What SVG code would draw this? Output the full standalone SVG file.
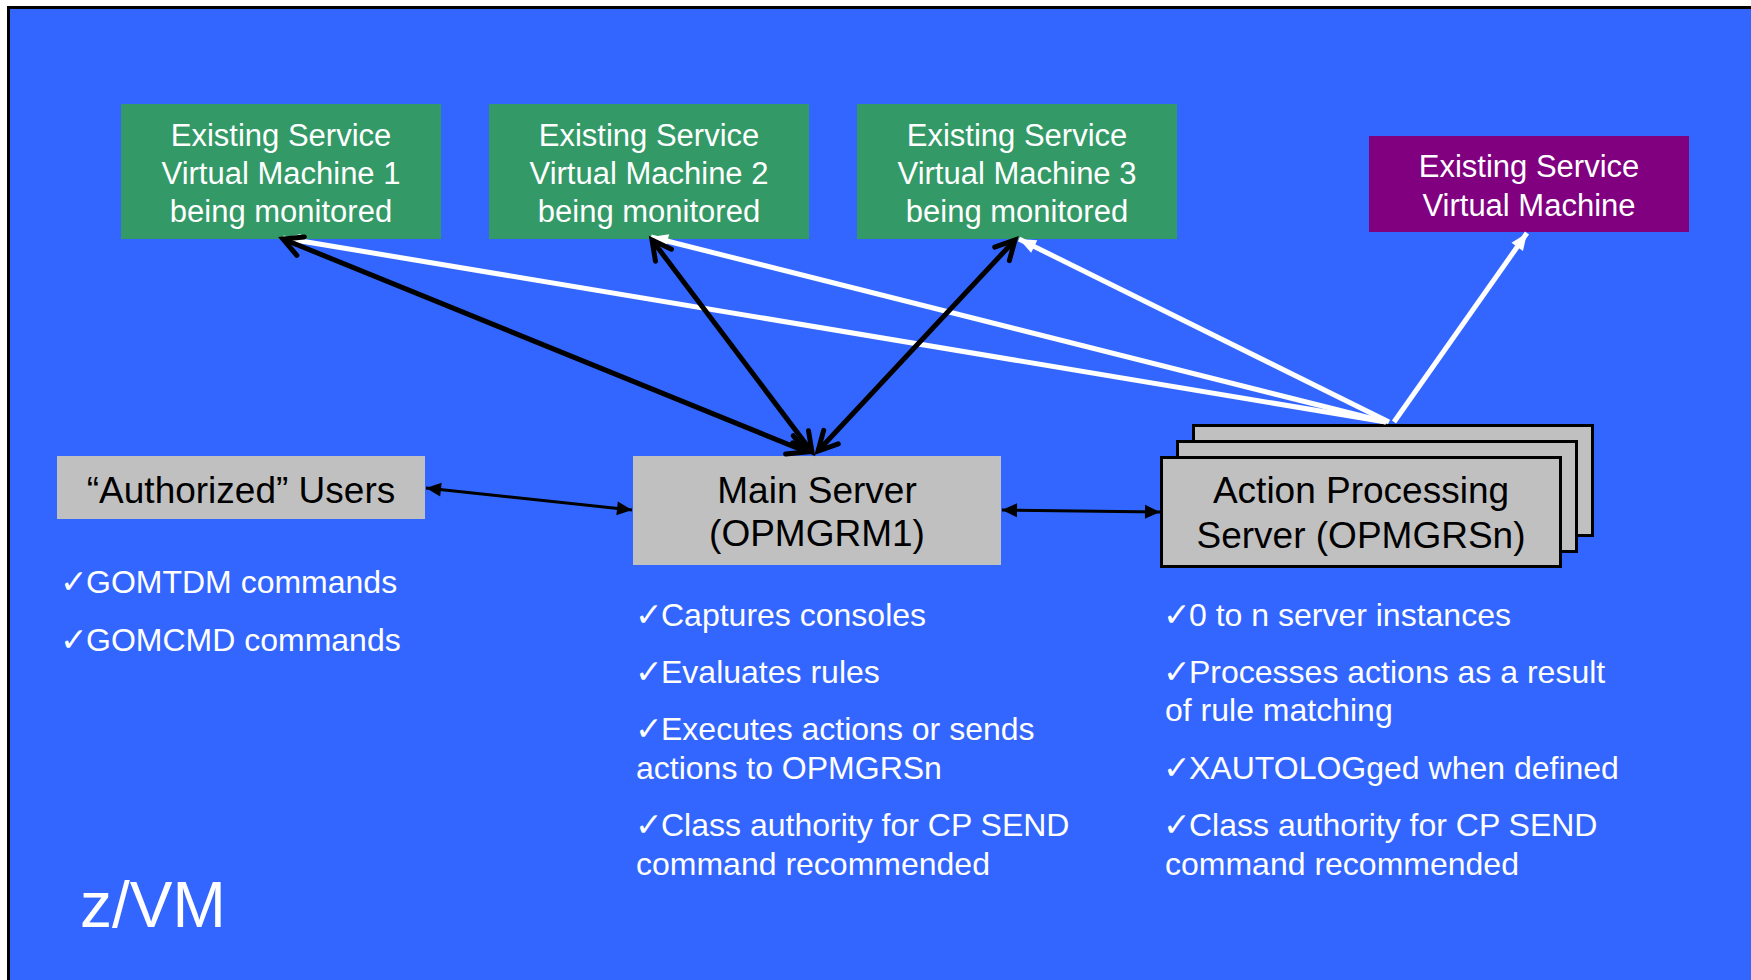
<svg xmlns="http://www.w3.org/2000/svg" width="1751" height="980" viewBox="0 0 1751 980">
  <style>
    .t { font-family: "Liberation Sans", Arial, sans-serif; }
    .w { fill: #FFFFFF; }
    .k { fill: #000000; }
    .ck { font-family: "DejaVu Sans", sans-serif; font-size: 33px; fill: #FFFFFF; }
    .bul { font-family: "Liberation Sans", Arial, sans-serif; font-size: 32px; fill: #FFFFFF; }
    .vm { font-size: 31px; text-anchor: middle; }
    .srv { font-size: 37px; text-anchor: middle; }
    .green { fill: #339966; }
    .gray { fill: #C0C0C0; }
    .blk { stroke: #000000; stroke-width: 5; fill: none; }
    .wht { stroke: #FFFFFF; stroke-width: 5; fill: none; }
    .thin { stroke: #000000; stroke-width: 3; fill: none; }
  </style>
  <defs>
    <marker id="chev" markerUnits="userSpaceOnUse" markerWidth="40" markerHeight="40" viewBox="-30 -20 40 40" refX="0" refY="0" orient="auto-start-reverse">
      <path d="M -19 -10 L 0 0 L -19 10" fill="none" stroke="#000000" stroke-width="5" stroke-linecap="round" stroke-linejoin="miter"/>
    </marker>
    <marker id="wtri" markerUnits="userSpaceOnUse" markerWidth="30" markerHeight="30" viewBox="-20 -15 30 30" refX="0" refY="0" orient="auto">
      <path d="M 0 0 L -17 -7 L -17 7 Z" fill="#FFFFFF"/>
    </marker>
    <marker id="btri" markerUnits="userSpaceOnUse" markerWidth="30" markerHeight="30" viewBox="-20 -15 30 30" refX="0" refY="0" orient="auto-start-reverse">
      <path d="M 0 0 L -15 -7 L -15 7 Z" fill="#000000"/>
    </marker>
  </defs>

  <rect x="0" y="0" width="1751" height="980" fill="#FFFFFF"/>
  <rect x="8.5" y="7.5" width="1760" height="990" fill="#3366FF" stroke="#000000" stroke-width="3"/>

  <g id="vm1">
    <rect class="green" x="121" y="104" width="320" height="135"/>
    <text class="t w vm" x="281" y="146">Existing Service</text>
    <text class="t w vm" x="281" y="184">Virtual Machine 1</text>
    <text class="t w vm" x="281" y="222">being monitored</text>
  </g>
  <g id="vm2">
    <rect class="green" x="489" y="104" width="320" height="135"/>
    <text class="t w vm" x="649" y="146">Existing Service</text>
    <text class="t w vm" x="649" y="184">Virtual Machine 2</text>
    <text class="t w vm" x="649" y="222">being monitored</text>
  </g>
  <g id="vm3">
    <rect class="green" x="857" y="104" width="320" height="135"/>
    <text class="t w vm" x="1017" y="146">Existing Service</text>
    <text class="t w vm" x="1017" y="184">Virtual Machine 3</text>
    <text class="t w vm" x="1017" y="222">being monitored</text>
  </g>
  <g id="vm-existing">
    <rect x="1369" y="136" width="320" height="96" fill="#800080"/>
    <text class="t w vm" x="1529" y="177">Existing Service</text>
    <text class="t w vm" x="1529" y="216">Virtual Machine</text>
  </g>

  <g id="users">
    <rect class="gray" x="57" y="456" width="368" height="63"/>
    <text class="t k srv" x="241" y="503">“Authorized” Users</text>
  </g>
  <g id="main-server">
    <rect class="gray" x="633" y="456" width="368" height="109"/>
    <text class="t k srv" x="817" y="503">Main Server</text>
    <text class="t k srv" x="817" y="546">(OPMGRM1)</text>
  </g>
  <g id="action-server">
    <rect class="gray" x="1193.5" y="425.5" width="399" height="110" stroke="#000000" stroke-width="3"/>
    <rect class="gray" x="1177.5" y="441.5" width="399" height="110" stroke="#000000" stroke-width="3"/>
    <rect class="gray" x="1161.5" y="457.5" width="399" height="109" stroke="#000000" stroke-width="3"/>
    <text class="t k srv" x="1361" y="503">Action Processing</text>
    <text class="t k srv" x="1361" y="548">Server (OPMGRSn)</text>
  </g>

  <g id="connectors">
    <line class="wht" x1="1386" y1="422" x2="283" y2="238" marker-end="url(#wtri)"/>
    <line class="wht" x1="1386" y1="422" x2="651" y2="237" marker-end="url(#wtri)"/>
    <line class="wht" x1="1389" y1="422" x2="1019" y2="239" marker-end="url(#wtri)"/>
    <line class="wht" x1="1394" y1="422" x2="1527" y2="233" stroke-width="4" marker-end="url(#wtri)"/>
    <line class="blk" x1="807" y1="452" x2="283" y2="239" marker-start="url(#chev)" marker-end="url(#chev)"/>
    <line class="blk" x1="812" y1="452" x2="652" y2="240" marker-start="url(#chev)" marker-end="url(#chev)"/>
    <line class="blk" x1="818" y1="451" x2="1015" y2="240" marker-start="url(#chev)" marker-end="url(#chev)"/>
    <line class="thin" x1="426" y1="488" x2="632" y2="510" marker-start="url(#btri)" marker-end="url(#btri)"/>
    <line class="thin" x1="1002" y1="510" x2="1160" y2="512" marker-start="url(#btri)" marker-end="url(#btri)"/>
  </g>

  <g id="user-notes">
    <text class="bul"><tspan class="ck" x="60" y="593">✓</tspan><tspan x="86" y="593">GOMTDM commands</tspan></text>
    <text class="bul"><tspan class="ck" x="60" y="651">✓</tspan><tspan x="86" y="651">GOMCMD commands</tspan></text>
  </g>
  <g id="main-notes">
    <text class="bul"><tspan class="ck" x="635" y="626">✓</tspan><tspan x="661" y="626">Captures consoles</tspan></text>
    <text class="bul"><tspan class="ck" x="635" y="683">✓</tspan><tspan x="661" y="683">Evaluates rules</tspan></text>
    <text class="bul"><tspan class="ck" x="635" y="740">✓</tspan><tspan x="661" y="740">Executes actions or sends</tspan><tspan x="636" y="779">actions to OPMGRSn</tspan></text>
    <text class="bul"><tspan class="ck" x="635" y="836">✓</tspan><tspan x="661" y="836">Class authority for CP SEND</tspan><tspan x="636" y="875">command recommended</tspan></text>
  </g>
  <g id="action-notes">
    <text class="bul"><tspan class="ck" x="1163" y="626">✓</tspan><tspan x="1189" y="626">0 to n server instances</tspan></text>
    <text class="bul"><tspan class="ck" x="1163" y="683">✓</tspan><tspan x="1189" y="683">Processes actions as a result</tspan><tspan x="1165" y="721">of rule matching</tspan></text>
    <text class="bul"><tspan class="ck" x="1163" y="779">✓</tspan><tspan x="1189" y="779">XAUTOLOGged when defined</tspan></text>
    <text class="bul"><tspan class="ck" x="1163" y="836">✓</tspan><tspan x="1189" y="836">Class authority for CP SEND</tspan><tspan x="1165" y="875">command recommended</tspan></text>
  </g>

  <text class="t w" x="80" y="927" font-size="64">z/VM</text>
</svg>
